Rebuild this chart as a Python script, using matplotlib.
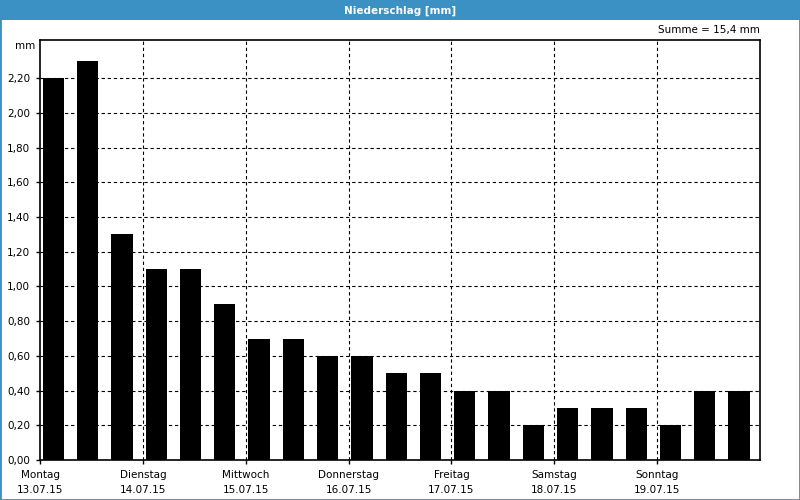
import numpy as np
import matplotlib.pyplot as plt
from matplotlib.patches import Rectangle

# Niederschlag je 8h-Intervall
werte = [2.2, 2.3, 1.3, 1.1, 1.1, 0.9, 0.7, 0.7, 0.6, 0.6, 0.5,
         0.5, 0.4, 0.4, 0.2, 0.3, 0.3, 0.3, 0.2, 0.4, 0.4]
tage = ['Montag', 'Dienstag', 'Mittwoch', 'Donnerstag', 'Freitag', 'Samstag', 'Sonntag']
daten = ['13.07.15', '14.07.15', '15.07.15', '16.07.15', '17.07.15', '18.07.15', '19.07.15']
yticks = np.arange(0, 2.21, 0.2)

blau = '#3b91c4'
plt.rcParams['font.family'] = 'DejaVu Sans'
plt.rcParams['font.size'] = 7.5

fig = plt.figure(figsize=(8, 5), dpi=100)
# Rahmen und Titelleiste
fig.patches.append(Rectangle((0, 0), 1, 1, transform=fig.transFigure, fill=False,
                             edgecolor=blau, lw=2, zorder=0))
fig.patches.append(Rectangle((0, 0.96), 1, 0.04, transform=fig.transFigure,
                             facecolor=blau, edgecolor='none', zorder=1))
fig.text(0.5, 0.979, 'Niederschlag [mm]', color='white', weight='bold',
         ha='center', va='center', fontsize=7.5)

ax = fig.add_axes([0.05, 0.08, 0.9, 0.84])
x = np.arange(len(werte))
ax.bar(x + 0.08, werte, width=0.62, align='edge', color='black', zorder=3)

ax.set_xlim(0, len(werte))
ax.set_ylim(0, 2.42)
ax.set_yticks(yticks)
ax.set_yticklabels([('%.2f' % v).replace('.', ',') for v in yticks])
ax.set_xticks(np.arange(0, 21, 3))
ax.set_xticklabels([t + '\n' + d for t, d in zip(tage, daten)], linespacing=1.7)
ax.tick_params(length=3, width=1, color='black', pad=4)

for v in yticks[1:]:
    ax.axhline(v, color='black', lw=0.8, ls=(0, (3, 2.5)), zorder=1)
for g in range(3, 21, 3):
    ax.axvline(g, color='black', lw=0.8, ls=(0, (3, 2.5)), zorder=1)

for s in ax.spines.values():
    s.set_linewidth(1.2)

ax.text(-0.006, 0.985, 'mm', transform=ax.transAxes, ha='right', va='center')
ax.text(1.0, 1.025, 'Summe = ' + ('%.1f' % sum(werte)).replace('.', ',') + ' mm',
        transform=ax.transAxes, ha='right', va='center')

fig.savefig('out.png', dpi=100)
